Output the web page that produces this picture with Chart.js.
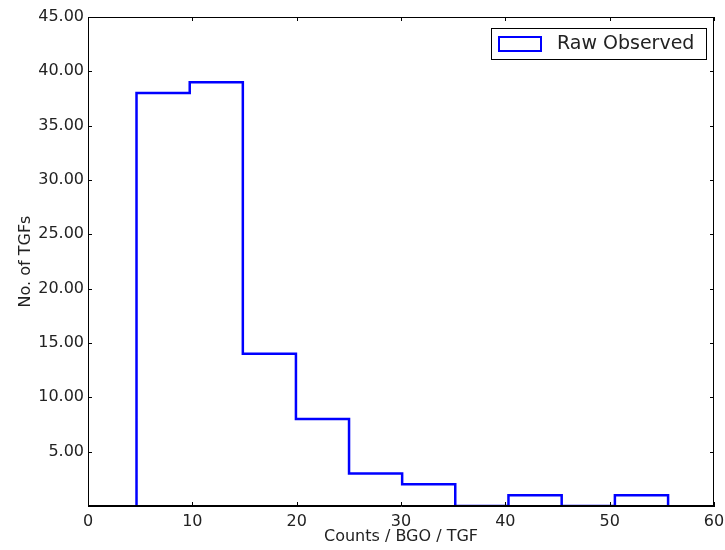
<!DOCTYPE html>
<html>
<head>
<meta charset="utf-8">
<script src="https://cdn.jsdelivr.net/npm/chart.js@4.4.1/dist/chart.umd.min.js"></script>
<style>
  html, body { margin: 0; padding: 0; background: #fff; }
  #wrap { width: 725px; height: 550px; }
</style>
</head>
<body>
<div id="wrap"><canvas id="c" width="725" height="550"></canvas></div>
<script>
// histogram bins
const binEdges = [4.65, 9.75, 14.84, 19.93, 25.02, 30.11, 35.2, 40.3, 45.4, 50.5, 55.6];
const binCounts = [38, 39, 14, 8, 3, 2, 0, 1, 0, 1];
const seriesLabel = "Raw Observed";
const xTicks = [0, 10, 20, 30, 40, 50, 60];
const yTicks = [5, 10, 15, 20, 25, 30, 35, 40, 45];

const FONT = "'DejaVu Sans', sans-serif";
const BLUE = "#0000ff";

// step outline: up from 0 at first edge, across each bin, down at last edge
const stepPoints = [{ x: binEdges[0], y: 0 }];
binCounts.forEach((c, i) => stepPoints.push({ x: binEdges[i], y: c }));
stepPoints.push({ x: binEdges[binEdges.length - 1], y: binCounts[binCounts.length - 1] });
stepPoints.push({ x: binEdges[binEdges.length - 1], y: 0 });

// frame on all four sides + inward ticks, like matplotlib
const framePlugin = {
  id: "frame",
  afterDatasetsDraw(chart) {
    const { ctx, chartArea: a, scales } = chart;
    ctx.save();
    ctx.strokeStyle = "#000";
    ctx.lineWidth = 1;
    ctx.strokeRect(a.left + 0.5, a.top + 0.5, a.right - a.left - 1, a.bottom - a.top - 1);
    ctx.beginPath();
    xTicks.forEach(v => {
      const px = Math.round(scales.x.getPixelForValue(v)) + 0.5;
      ctx.moveTo(px, a.bottom); ctx.lineTo(px, a.bottom - 4);
      ctx.moveTo(px, a.top); ctx.lineTo(px, a.top + 4);
    });
    yTicks.forEach(v => {
      const py = Math.round(scales.y.getPixelForValue(v)) + 0.5;
      ctx.moveTo(a.left, py); ctx.lineTo(a.left + 4, py);
      ctx.moveTo(a.right, py); ctx.lineTo(a.right - 4, py);
    });
    ctx.stroke();
    ctx.restore();
  },
  afterDraw(chart) {
    // legend box in the upper right corner
    const { ctx, chartArea: a } = chart;
    const bx = a.right - 223, by = a.top + 11, bw = 215, bh = 31;
    ctx.save();
    ctx.fillStyle = "#fff";
    ctx.fillRect(bx, by, bw, bh);
    ctx.strokeStyle = "#000";
    ctx.lineWidth = 1;
    ctx.strokeRect(bx + 0.5, by + 0.5, bw, bh);
    ctx.strokeStyle = BLUE;
    ctx.lineWidth = 2;
    ctx.strokeRect(bx + 8, by + 9, 42, 14);
    ctx.fillStyle = "#222";
    ctx.font = "19px " + FONT;
    ctx.textBaseline = "middle";
    ctx.fillText(seriesLabel, bx + 66, by + bh / 2 + 1);
    ctx.restore();
  }
};

new Chart(document.getElementById("c"), {
  type: "line",
  data: {
    datasets: [{
      label: seriesLabel,
      data: stepPoints,
      stepped: "before",
      borderColor: BLUE,
      borderWidth: 2.5,
      pointRadius: 0,
      fill: false
    }]
  },
  options: {
    responsive: false,
    animation: false,
    layout: { padding: { top: 17, right: 0, left: 0, bottom: 0 } },
    plugins: {
      legend: { display: false },
      tooltip: { enabled: false }
    },
    scales: {
      x: {
        type: "linear",
        min: 0,
        max: 60,
        afterBuildTicks: s => { s.ticks = xTicks.map(v => ({ value: v })); },
        afterFit: s => { s.height = 44; s.paddingRight = 11; },
        grid: { display: false, drawTicks: false, tickLength: 0 },
        border: { display: true, color: "#000" },
        ticks: { color: "#222", font: { family: FONT, size: 16 }, padding: 6, maxRotation: 0 },
        title: { display: true, text: "Counts / BGO / TGF", color: "#222", font: { family: FONT, size: 16 }, padding: { top: 0, bottom: 4 } }
      },
      y: {
        min: 0,
        max: 45,
        afterBuildTicks: s => { s.ticks = [0, ...yTicks].map(v => ({ value: v })); },
        afterFit: s => { s.width = 88; },
        grid: { display: false, drawTicks: false, tickLength: 0 },
        border: { display: true, color: "#000" },
        ticks: {
          color: "#222",
          font: { family: FONT, size: 16 },
          padding: 4,
          callback: v => v === 0 ? "" : v.toFixed(2)
        },
        title: { display: true, text: "No. of TGFs", color: "#222", font: { family: FONT, size: 16 }, padding: { top: 16, bottom: 0 } }
      }
    }
  },
  plugins: [framePlugin]
});
</script>
</body>
</html>
